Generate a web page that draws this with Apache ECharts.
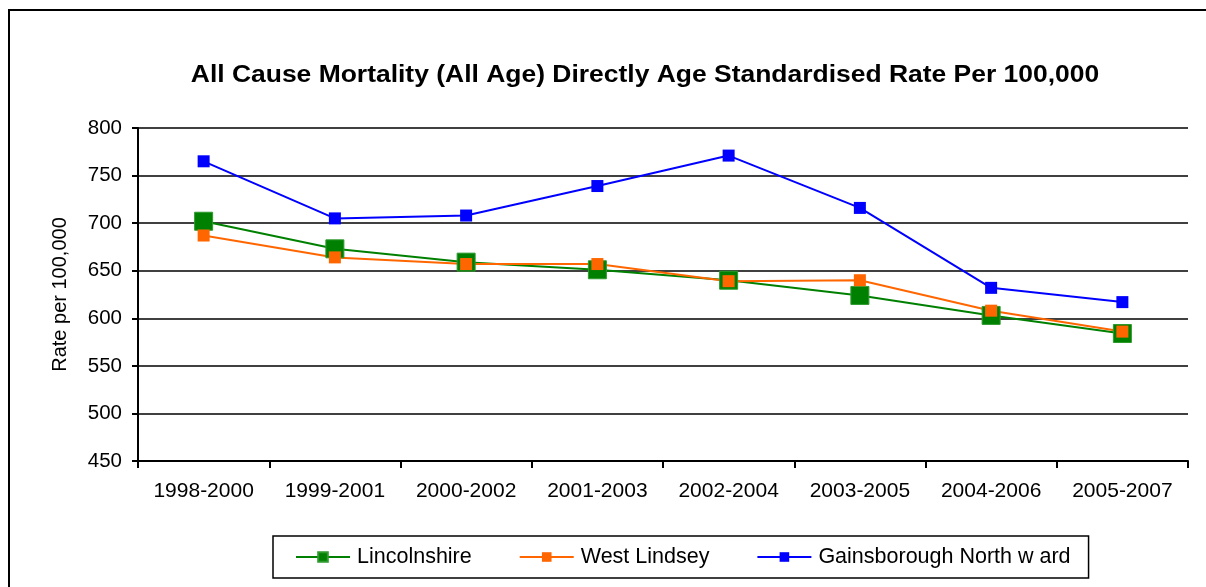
<!DOCTYPE html>
<html>
<head>
<meta charset="utf-8">
<script src="https://cdn.jsdelivr.net/npm/echarts@6/dist/echarts.min.js"></script>
<style>html,body{margin:0;padding:0;background:#fff;}#c{width:1206px;height:587px;}</style>
</head>
<body>
<div id="c"></div>
<script>
const categories = ['1998-2000','1999-2001','2000-2002','2001-2003','2002-2004','2003-2005','2004-2006','2005-2007'];
const lincolnshire = [702, 673, 659, 651, 640, 624, 603, 584];
const westLindsey = [687, 664, 657, 657, 639, 640, 608, 586];
const gainsborough = [765, 705, 708, 739, 771, 716, 632, 617];
const yTicks = [450, 500, 550, 600, 650, 700, 750, 800];
const titleText = 'All Cause Mortality (All Age) Directly Age Standardised Rate Per 100,000';

const chart = echarts.init(document.getElementById('c'));
const font = 'Liberation Sans, Arial, sans-serif';
chart.setOption({
  animation: false,
  backgroundColor: '#fff',
  graphic: [{
    type: 'rect', silent: true,
    shape: {x: 9, y: 10, width: 1300, height: 700},
    style: {fill: 'none', stroke: '#000', lineWidth: 2}
  }, {
    type: 'text', silent: true,
    x: 645, y: 76, scaleX: 1.15,
    style: {
      text: titleText, fill: '#000',
      font: 'bold 23px Liberation Sans, Arial, sans-serif',
      textAlign: 'center', textVerticalAlign: 'middle'
    }
  }],
  legend: {
    left: 273, top: 536,
    itemWidth: 54, itemHeight: 12, itemGap: 47,
    padding: [10, 18, 10, 22],
    borderColor: '#000', borderWidth: 1.5,
    textStyle: {fontFamily: font, fontSize: 21.5, color: '#000', padding: [0, 0, 0, 2]},
    data: ['Lincolnshire', 'West Lindsey', 'Gainsborough North w ard']
  },
  grid: {left: 138, top: 128, right: 18, bottom: 126, containLabel: false},
  xAxis: {
    type: 'category', data: categories, boundaryGap: true,
    axisLine: {lineStyle: {color: '#000', width: 2}},
    axisTick: {show: true, length: 7, lineStyle: {color: '#000', width: 2}},
    axisLabel: {fontFamily: font, fontSize: 21, color: '#000', margin: 20}
  },
  yAxis: {
    type: 'value', min: yTicks[0], max: yTicks[yTicks.length - 1], interval: 50,
    name: 'Rate per 100,000', nameLocation: 'middle', nameGap: 68, nameRotate: 90,
    nameTextStyle: {fontFamily: font, fontSize: 20, color: '#000'},
    axisLine: {show: true, lineStyle: {color: '#000', width: 2}},
    axisTick: {show: true, length: 6, lineStyle: {color: '#000', width: 2}},
    axisLabel: {fontFamily: font, fontSize: 20.5, color: '#000', margin: 16},
    splitLine: {show: true, lineStyle: {color: '#000', width: 1.5}}
  },
  series: [
    {
      name: 'Lincolnshire', type: 'line', data: lincolnshire,
      symbol: 'rect', symbolSize: 18,
      lineStyle: {color: '#008000', width: 2},
      itemStyle: {color: '#008000', borderColor: '#2e9a2e', borderWidth: 1}
    },
    {
      name: 'West Lindsey', type: 'line', data: westLindsey,
      symbol: 'rect', symbolSize: 12,
      lineStyle: {color: '#ff6600', width: 2},
      itemStyle: {color: '#ff6600'}
    },
    {
      name: 'Gainsborough North w ard', type: 'line', data: gainsborough,
      symbol: 'rect', symbolSize: 12,
      lineStyle: {color: '#0000ff', width: 2},
      itemStyle: {color: '#0000ff'}
    }
  ]
});
</script>
</body>
</html>
